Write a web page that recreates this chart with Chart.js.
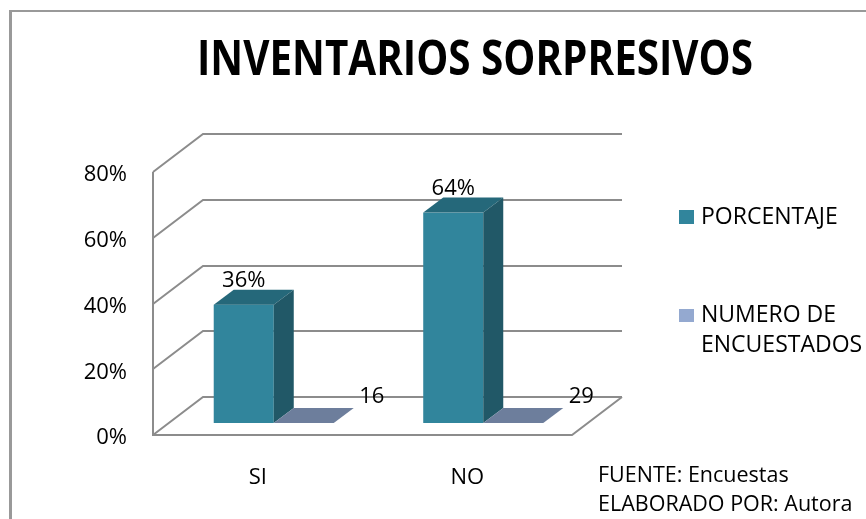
<!DOCTYPE html>
<html>
<head>
<meta charset="utf-8">
<script src="https://cdn.jsdelivr.net/npm/chart.js@4/dist/chart.umd.min.js"></script>
<style>
    body { margin: 0; background: #fff; }
    canvas { display: block; }
</style>
</head>
<body>
<canvas id="chartContainer" width="866" height="519"></canvas>
<script>
// data
const categorias = ['SI', 'NO'];
const porcentaje = [36, 64];
const encuestados = [16, 29];
const serieNombres = ['PORCENTAJE', 'NUMERO DE ENCUESTADOS'];
const notas = ['FUENTE: Encuestas', 'ELABORADO POR: Autora'];

const FONT = "'Open Sans', 'DejaVu Sans', sans-serif";

// offsets of the fake 3D view
const WALL = { dx: 50, dy: -38 };
const FACE = { dx: 16, dy: -12 };
const DEPTH = { dx: 20, dy: -15 };

const depth3d = {
    id: 'depth3d',
    afterDatasetsDraw(chart) {
        const ctx = chart.ctx;
        const area = chart.chartArea;
        const y = chart.scales.y;

        ctx.save();

        // frame round the chart
        ctx.fillStyle = '#999';
        ctx.fillRect(9, 10, 3, 509);
        ctx.fillRect(9, 10, 857, 2);

        // title
        ctx.fillStyle = '#000';
        ctx.textAlign = 'center';
        ctx.textBaseline = 'alphabetic';
        ctx.font = "bold 49px 'Liberation Sans Narrow', " + FONT;
        ctx.fillText('INVENTARIOS SORPRESIVOS', 475, 75, 556);

        // walls and floor
        ctx.strokeStyle = '#8c8c8c';
        ctx.lineWidth = 2;
        ctx.beginPath();
        y.ticks.forEach(t => {
            const py = Math.round(y.getPixelForValue(t.value));
            ctx.moveTo(area.left, py);
            ctx.lineTo(area.left + WALL.dx, py + WALL.dy);
            ctx.lineTo(area.right + WALL.dx, py + WALL.dy);
        });
        ctx.moveTo(area.left, area.top);
        ctx.lineTo(area.left, area.bottom);
        ctx.lineTo(area.right, area.bottom);
        ctx.lineTo(area.right + WALL.dx, area.bottom + WALL.dy);
        ctx.stroke();

        // PORCENTAJE bars
        const meta0 = chart.getDatasetMeta(0);
        meta0.data.forEach((el, i) => {
            const w = el.width;
            const fx = el.x - w / 2 + FACE.dx;
            const ty = el.y + FACE.dy;
            const fb = el.base + FACE.dy;

            ctx.fillStyle = '#31859c';
            ctx.fillRect(fx, ty, w, fb - ty);

            ctx.fillStyle = '#25687a';
            ctx.beginPath();
            ctx.moveTo(fx, ty);
            ctx.lineTo(fx + DEPTH.dx, ty + DEPTH.dy);
            ctx.lineTo(fx + w + DEPTH.dx, ty + DEPTH.dy);
            ctx.lineTo(fx + w, ty);
            ctx.closePath();
            ctx.fill();

            ctx.fillStyle = '#215867';
            ctx.beginPath();
            ctx.moveTo(fx + w, ty);
            ctx.lineTo(fx + w + DEPTH.dx, ty + DEPTH.dy);
            ctx.lineTo(fx + w + DEPTH.dx, fb + DEPTH.dy);
            ctx.lineTo(fx + w, fb);
            ctx.closePath();
            ctx.fill();

            ctx.fillStyle = '#000';
            ctx.font = '22px ' + FONT;
            ctx.textAlign = 'center';
            ctx.fillText(porcentaje[i] + '%', fx + w / 2, el.y - 30);
        });

        // NUMERO DE ENCUESTADOS bars (flat on the floor)
        const meta1 = chart.getDatasetMeta(1);
        meta1.data.forEach((el, i) => {
            const w = el.width;
            const fx = el.x - w / 2 + FACE.dx;
            const fb = el.base + FACE.dy;
            const ty = Math.min(el.y + FACE.dy, fb);

            ctx.fillStyle = '#6d7e9c';
            ctx.beginPath();
            ctx.moveTo(fx, ty);
            ctx.lineTo(fx + w, ty);
            ctx.lineTo(fx + w + DEPTH.dx, ty + DEPTH.dy);
            ctx.lineTo(fx + DEPTH.dx, ty + DEPTH.dy);
            ctx.closePath();
            ctx.fill();

            ctx.fillStyle = '#000';
            ctx.font = '22px ' + FONT;
            ctx.textAlign = 'center';
            ctx.fillText(String(encuestados[i]), fx + w / 2 + 68, el.base - 32);
        });

        // legend
        const colores = ['#31859c', '#94a9d0'];
        ctx.textAlign = 'left';
        ctx.font = '23px ' + FONT;
        ctx.fillStyle = colores[0];
        ctx.fillRect(679, 210, 15, 14);
        ctx.fillStyle = '#000';
        ctx.fillText(serieNombres[0], 701, 224);

        ctx.fillStyle = colores[1];
        ctx.fillRect(679, 309, 15, 13);
        ctx.fillStyle = '#000';
        const partes = serieNombres[1].split(' ');
        ctx.fillText(partes.slice(0, 2).join(' '), 701, 322);
        ctx.fillText(partes.slice(2).join(' '), 701, 352);

        // source notes
        ctx.font = '21.5px ' + FONT;
        ctx.fillText(notas[0], 598, 482);
        ctx.fillText(notas[1], 598, 511, 260);

        ctx.restore();
    }
};

const canvas = document.getElementById('chartContainer');
const ctx = canvas.getContext('2d');

let chart = new Chart(ctx, {
    type: 'bar',
    data: {
        labels: categorias,
        datasets: [{
            label: serieNombres[0],
            data: porcentaje,
            backgroundColor: 'transparent',
            yAxisID: 'y',
        }, {
            label: serieNombres[1],
            data: encuestados,
            backgroundColor: 'transparent',
            yAxisID: 'yCount',
        }]
    },
    options: {
        responsive: false,
        animation: false,
        layout: {
            padding: { top: 172, right: 294, left: 0, bottom: 0 }
        },
        datasets: {
            bar: { categoryPercentage: 0.573, barPercentage: 1 }
        },
        plugins: {
            legend: { display: false },
            title: { display: false },
            tooltip: { enabled: false },
        },
        scales: {
            x: {
                grid: { display: false, drawTicks: false },
                border: { display: false },
                ticks: { color: '#000', font: { family: FONT, size: 22 }, padding: 30 },
                afterFit: (scale) => { scale.height = 84; },
            },
            y: {
                min: 0,
                max: 80,
                grid: { display: false, drawTicks: false },
                border: { display: false },
                ticks: {
                    stepSize: 20,
                    color: '#000',
                    font: { family: FONT, size: 22 },
                    padding: 26,
                    labelOffset: 3,
                    callback: (v) => v + '%',
                },
                afterFit: (scale) => { scale.width = 153; },
            },
            // the counts lie flat on the floor in the original
            yCount: {
                display: false,
                min: 0,
                max: 100000,
            }
        }
    },
    plugins: [depth3d]
});
</script>
</body>
</html>
